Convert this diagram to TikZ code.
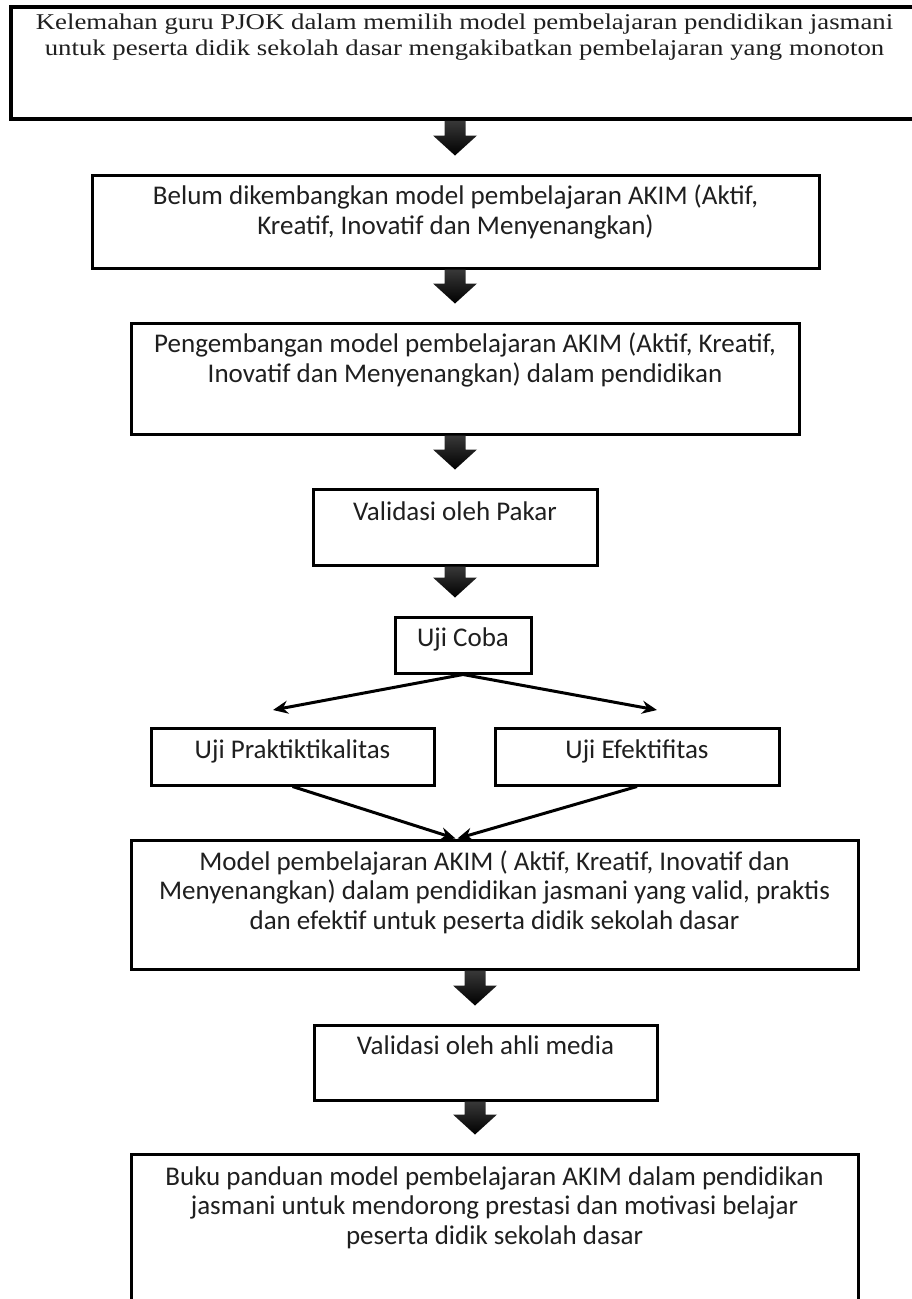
\documentclass[tikz,border=0pt]{standalone}
\usepackage{fontspec}
\setmainfont{Carlito}
\newfontfamily\timesf{Liberation Serif}
\usetikzlibrary{calc,arrows.meta}
\tikzset{
  box/.style={draw=black, line width=3pt, inner sep=0pt},
  txt/.style={font=\fontsize{27}{29.5}\selectfont, align=center, inner sep=0pt, anchor=north, text=black!88},
  thinarrow/.style={line width=3pt, -{Stealth[length=15pt,width=13pt]}},
}
\newcommand\barrow[3]{%
  \shade[top color=black!78, bottom color=black]
    let \p1=(#1), \p2=(#2) in
    (#3pt-10.5pt,\y1) -- (#3pt+10.5pt,\y1) -- (#3pt+10.5pt,\y2+38pt) -- (#3pt+22pt,\y2+38pt)
    -- (#3pt,\y2+18pt) -- (#3pt-22pt,\y2+38pt) -- (#3pt-10.5pt,\y2+38pt) -- cycle;
}
\begin{document}
\begin{tikzpicture}[x=1pt,y=-1pt]
\useasboundingbox[fill=white] (0,0) rectangle (912,1299);

% boxes
\node[box, line width=3.5pt, minimum width=907pt, minimum height=112pt] (b1) at (464.5,63) {};
\node[box, minimum width=727pt, minimum height=93pt]  (b2) at (455.5,221.5) {};
\node[box, minimum width=668pt, minimum height=111pt] (b3) at (465,378.5) {};
\node[box, minimum width=284pt, minimum height=76pt]  (b4) at (455,527) {};
\node[box, minimum width=136pt, minimum height=56pt]  (b5) at (463,645) {};
\node[box, minimum width=283pt, minimum height=57pt]  (b6) at (292.5,756.5) {};
\node[box, minimum width=284pt, minimum height=57pt]  (b7) at (637,756.5) {};
\node[box, minimum width=727pt, minimum height=129pt] (b8) at (494.5,904.5) {};
\node[box, minimum width=343pt, minimum height=75pt]  (b9) at (485.5,1062.5) {};
\node[box, minimum width=727pt, minimum height=166pt] (b10) at (494.5,1237) {};

% texts
\node[txt, font=\timesf\fontsize{26.8}{26}\selectfont] (t1) at ($(b1.north)+(0,5.5)$)
  {\strut\scalebox{1}[0.84]{Kelemahan guru PJOK dalam memilih model pembelajaran pendidikan jasmani}\\
   \scalebox{1}[0.84]{untuk peserta didik sekolah dasar mengakibatkan pembelajaran yang monoton}};
\node[txt] (t2) at ($(b2.north)+(0,10.5)$)
  {\strut Belum dikembangkan model pembelajaran AKIM (Aktif,\\Kreatif, Inovatif dan Menyenangkan)};
\node[txt] (t3) at ($(b3.north)+(0,10.5)$)
  {\strut Pengembangan model pembelajaran AKIM (Aktif, Kreatif,\\Inovatif dan Menyenangkan) dalam pendidikan};
\node[txt] (t4) at ($(b4.north)+(0,12)$) {\strut Validasi oleh Pakar};
\node[txt] (t5) at ($(b5.north)+(0,10.5)$) {\strut Uji Coba};
\node[txt] (t6) at ($(b6.north)+(0,11)$) {\strut Uji Praktiktikalitas};
\node[txt] (t7) at ($(b7.north)+(0,11)$) {\strut Uji Efektifitas};
\node[txt] (t8) at ($(b8.north)+(0,11)$)
  {\strut Model pembelajaran AKIM ( Aktif, Kreatif, Inovatif dan\\Menyenangkan) dalam pendidikan jasmani yang valid, praktis\\dan efektif untuk peserta didik sekolah dasar};
\node[txt] (t9) at ($(b9.north)+(0,10.5)$) {\strut Validasi oleh ahli media};
\node[txt] (t10) at ($(b10.north)+(0,12)$)
  {\strut Buku panduan model pembelajaran AKIM dalam pendidikan\\jasmani untuk mendorong prestasi dan motivasi belajar\\peserta didik sekolah dasar};

% block arrows
\barrow{b1.south}{b2.north}{455}
\barrow{b2.south}{b3.north}{455}
\barrow{b3.south}{b4.north}{455}
\barrow{b4.south}{b5.north}{455}
\barrow{b8.south}{b9.north}{475}
\barrow{b9.south}{b10.north}{475}

% split arrows
\coordinate (cl) at (273,710);
\coordinate (cr) at (657,710);
\draw[thinarrow] (b5.south) -- (cl);
\draw[thinarrow] (b5.south) -- (cr);

% merge arrows
\draw[thinarrow] (b6.south) -- ($(b8.north)+(-39,0)$);
\draw[thinarrow] (b7.south) -- ($(b8.north)+(-37,0)$);
\end{tikzpicture}
\end{document}
